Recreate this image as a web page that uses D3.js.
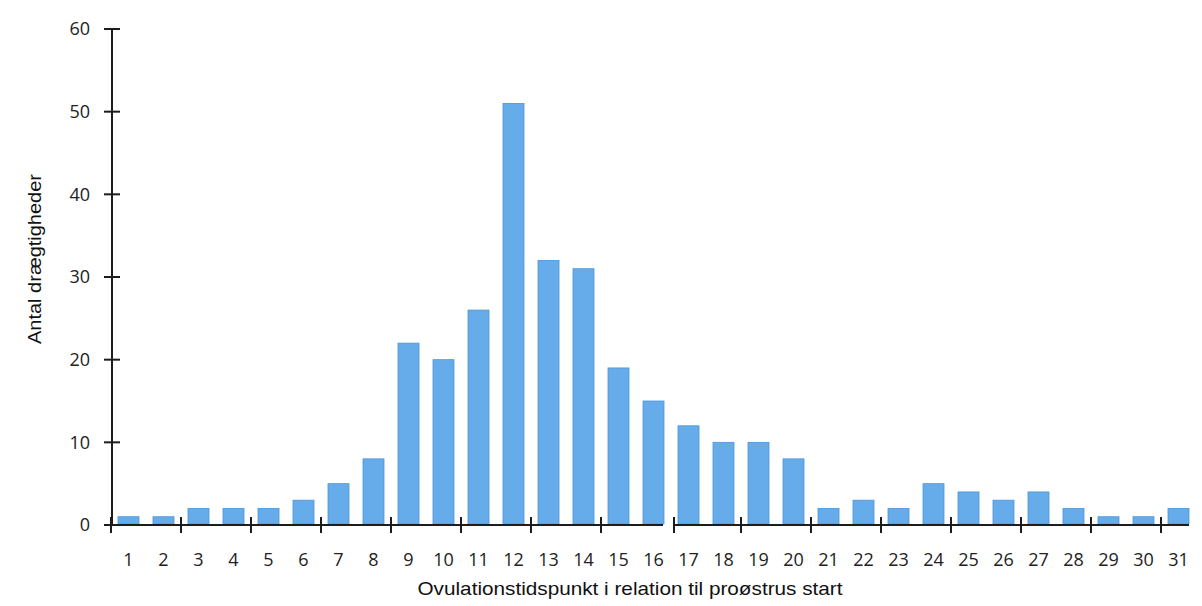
<!DOCTYPE html>
<html><head><meta charset="utf-8">
<script src="https://cdn.jsdelivr.net/npm/d3@7"></script>
<style>
html,body{margin:0;padding:0;background:#fff;}
svg{display:block;}
</style></head>
<body>
<svg id="chart" width="1202" height="606"></svg>
<script>
const categories = ["1","2","3","4","5","6","7","8","9","10","11","12","13","14","15","16","17","18","19","20","21","22","23","24","25","26","27","28","29","30","31"];
const values = [1,1,2,2,2,3,5,8,22,20,26,51,32,31,19,15,12,10,10,8,2,3,2,5,4,3,4,2,1,1,2];
const yTicks = [0,10,20,30,40,50,60];
const xTickBoundaries = [0.5,2.5,4.5,6.5,8.5,10.5,12.5,14.5,16.5,18.5,20.5,22.5,24.5,26.5,28.5,30.5];
const xTitle = "Ovulationstidspunkt i relation til proøstrus start";
const yTitle = "Antal drægtigheder";

const svg = d3.select("#chart");
const x0 = 111, step = 35;
const x = d3.scaleBand().domain(categories).range([x0, x0 + step*categories.length]).paddingInner(0.4).paddingOuter(0.2);
const y = d3.scaleLinear().domain([0,60]).range([525, 29]);
const xPos = v => x0 + (v - 0.5) * step; // continuous position for boundaries

const ink = "#1c1c1c";

// bars
svg.append("g").selectAll("rect").data(values).join("rect")
  .attr("x", (d,i) => x(categories[i]))
  .attr("width", x.bandwidth())
  .attr("y", d => y(d))
  .attr("height", d => y(0) - y(d) - 1)
  .attr("fill", "#66acea")
  .attr("stroke", "#4d95d6")
  .attr("stroke-width", 0.8);

// y axis
const yAxis = svg.append("g");
yAxis.append("line").attr("x1", 112).attr("x2", 112).attr("y1", y(60)).attr("y2", y(0))
  .attr("stroke", ink).attr("stroke-width", 2);
yAxis.selectAll("line.t").data(yTicks).join("line").attr("class","t")
  .attr("x1", 104).attr("x2", 120).attr("y1", d => y(d)).attr("y2", d => y(d))
  .attr("stroke", ink).attr("stroke-width", 2);
yAxis.selectAll("text").data(yTicks).join("text")
  .attr("x", 90).attr("y", d => y(d)).attr("dy", "0.36em")
  .attr("text-anchor", "end")
  .attr("font-family", "'Open Sans', sans-serif").attr("font-size", 18).attr("fill", "#222")
  .text(d => d);

// x axis (with break between 16 and 17)
const xAxis = svg.append("g");
const y0 = y(0);
xAxis.append("line").attr("x1", 104).attr("x2", xPos(16.5) - 8).attr("y1", y0).attr("y2", y0)
  .attr("stroke", ink).attr("stroke-width", 2);
xAxis.append("line").attr("x1", xPos(16.5) + 3).attr("x2", x(categories[30]) + x.bandwidth()).attr("y1", y0).attr("y2", y0)
  .attr("stroke", ink).attr("stroke-width", 2);
xAxis.selectAll("line.t").data(xTickBoundaries).join("line").attr("class","t")
  .attr("x1", d => d === 16.5 ? xPos(d) + 3 : xPos(d)).attr("x2", d => d === 16.5 ? xPos(d) + 3 : xPos(d))
  .attr("y1", y0 - 8).attr("y2", y0 + 8)
  .attr("stroke", ink).attr("stroke-width", 2);
xAxis.selectAll("text").data(categories).join("text")
  .attr("x", d => x(d) + x.bandwidth()/2).attr("y", 566)
  .attr("text-anchor", "middle")
  .attr("font-family", "'Open Sans', sans-serif").attr("font-size", 18).attr("fill", "#222")
  .text(d => d);

// titles
svg.append("text").attr("x", 630).attr("y", 595).attr("text-anchor", "middle")
  .attr("font-family", "'Liberation Sans', Arial, sans-serif").attr("font-size", 19).attr("fill", "#111")
  .attr("textLength", 425).attr("lengthAdjust", "spacingAndGlyphs")
  .text(xTitle);
svg.append("text").attr("transform", "translate(41,259) rotate(-90)").attr("text-anchor", "middle")
  .attr("font-family", "'Liberation Sans', Arial, sans-serif").attr("font-size", 19).attr("fill", "#111")
  .attr("textLength", 170).attr("lengthAdjust", "spacingAndGlyphs")
  .text(yTitle);
</script>
</body></html>
